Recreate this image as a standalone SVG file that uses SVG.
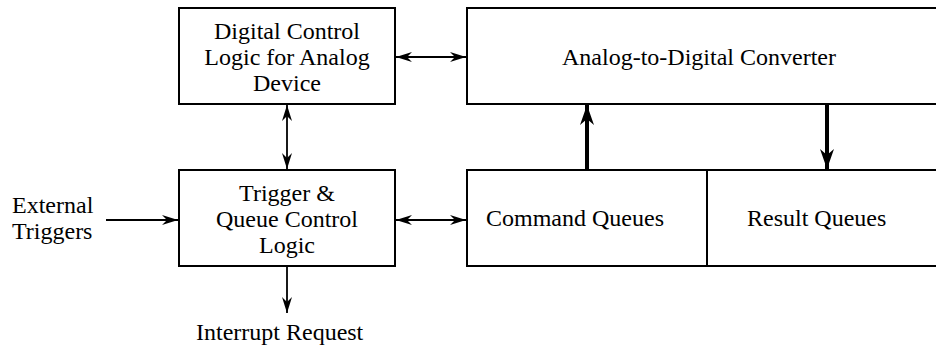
<svg xmlns="http://www.w3.org/2000/svg" width="936" height="350" viewBox="0 0 936 350" font-family="Liberation Serif, Times New Roman, DejaVu Serif, serif">
<style>
.box{fill:#fff;stroke:#000;stroke-width:2}
text{font-size:24px;fill:#000}
.c{text-anchor:middle}
.ln{stroke:#000;stroke-width:1.8;fill:none}
.thk{stroke:#000;stroke-width:4;fill:none}
</style>
<defs>
<marker id="ah" viewBox="0 0 16 10" refX="16" refY="5" markerWidth="16" markerHeight="10" markerUnits="userSpaceOnUse" orient="auto-start-reverse">
<path d="M0,0 L16,5 L0,10 L5,5 Z" fill="#000"/>
</marker>
<marker id="ahb" viewBox="0 0 20 14" refX="20" refY="7" markerWidth="20" markerHeight="14" markerUnits="userSpaceOnUse" orient="auto">
<path d="M0,0 L20,7 L0,14 L6,7 Z" fill="#000"/>
</marker>
</defs>
<g id="dcl">
<rect class="box" x="179" y="8" width="216" height="96"/>
<text class="c" x="287" y="39">Digital Control</text>
<text class="c" x="287" y="65">Logic for Analog</text>
<text class="c" x="287" y="91">Device</text>
</g>
<g id="adc">
<rect class="box" x="467" y="8" width="480" height="96"/>
<text class="c" x="699" y="65">Analog-to-Digital Converter</text>
</g>
<g id="tqc">
<rect class="box" x="179" y="170" width="216" height="96"/>
<text class="c" x="287" y="201">Trigger &amp;</text>
<text class="c" x="287" y="227">Queue Control</text>
<text class="c" x="287" y="253">Logic</text>
</g>
<g id="cmdq">
<rect class="box" x="467" y="170" width="240" height="96"/>
<text x="486" y="226">Command Queues</text>
</g>
<g id="resq">
<rect class="box" x="707" y="170" width="240" height="96"/>
<text x="747" y="226">Result Queues</text>
</g>
<g id="ext">
<text x="12" y="213">External</text>
<text x="12" y="239">Triggers</text>
</g>
<g id="irq">
<text x="196" y="340">Interrupt Request</text>
</g>
<g id="connectors">
<line class="ln" x1="396" y1="57" x2="466" y2="57" marker-start="url(#ah)" marker-end="url(#ah)"/>
<line class="ln" x1="287" y1="105" x2="287" y2="169" marker-start="url(#ah)" marker-end="url(#ah)"/>
<line class="ln" x1="106" y1="220" x2="178" y2="220" marker-end="url(#ah)"/>
<line class="ln" x1="396" y1="220" x2="466" y2="220" marker-start="url(#ah)" marker-end="url(#ah)"/>
<line class="ln" x1="287" y1="267" x2="287" y2="313" marker-end="url(#ah)"/>
<line class="thk" x1="587" y1="169" x2="587" y2="105" marker-end="url(#ahb)"/>
<line class="thk" x1="827" y1="105" x2="827" y2="169" marker-end="url(#ahb)"/>
</g>
</svg>
